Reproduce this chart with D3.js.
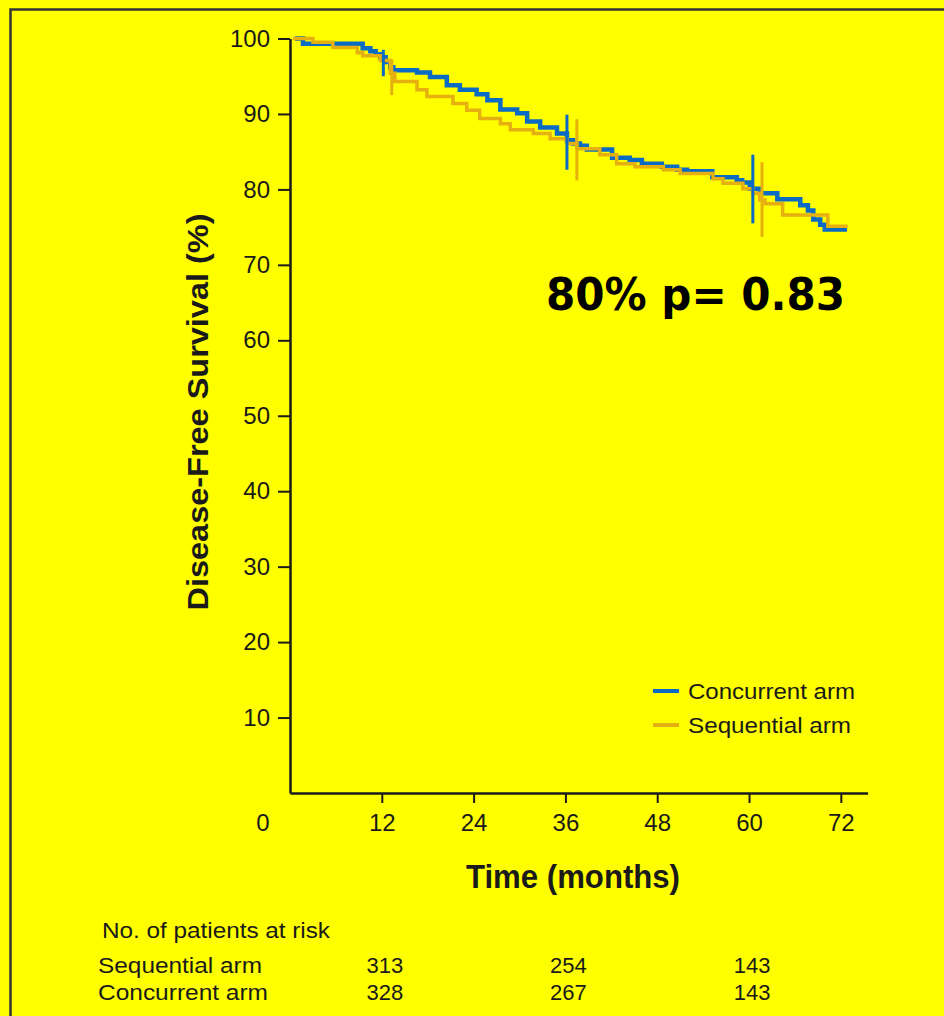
<!DOCTYPE html>
<html>
<head>
<meta charset="utf-8">
<script src="https://cdn.jsdelivr.net/npm/d3@7"></script>
<style>
  body { margin: 0; background: #ffff00; }
  svg { display: block; }
</style>
</head>
<body>
<div id="chart"></div>
<script>
// Kaplan-Meier steps: time (months) where each level starts, survival (%)
const concurrentTime = [0.65, 1.7, 9.5, 10.5, 11.2, 11.8, 12.5, 13.1, 13.5, 16.6, 18.3, 20.5, 22.2, 24.4, 25.8, 27.5, 29.7, 31.0, 32.7, 34.9, 36.2, 37.0, 37.9, 38.8, 42.1, 44.4, 46.0, 48.6, 50.6, 51.9, 55.2, 58.4, 59.1, 60.1, 61.4, 63.7, 66.7, 67.7, 68.4, 69.3, 69.9, 72.8];
const concurrentSurv = [100, 99.3, 98.7, 98.3, 97.9, 97.5, 96.9, 96.2, 95.8, 95.5, 94.9, 93.8, 93.2, 92.6, 91.8, 90.6, 90.1, 89.0, 88.2, 87.4, 86.5, 86.1, 85.8, 85.3, 84.2, 83.9, 83.4, 83.0, 82.6, 82.4, 81.6, 81.2, 80.9, 80.1, 79.5, 78.7, 77.9, 77.2, 76.0, 75.3, 74.7, 74.7];

const sequentialTime = [0.4, 3.0, 5.6, 8.8, 9.5, 11.8, 13.1, 13.7, 16.6, 17.9, 21.3, 23.1, 24.8, 27.5, 28.8, 31.8, 34.0, 36.2, 37.5, 40.5, 42.7, 45.1, 48.8, 51.0, 55.3, 56.6, 59.2, 60.5, 61.4, 62.1, 64.4, 70.3, 72.9];
const sequentialSurv = [100, 99.5, 98.8, 98.1, 97.7, 97.1, 95.4, 94.3, 93.2, 92.3, 91.4, 90.5, 89.4, 88.7, 87.9, 87.4, 86.7, 86.1, 85.4, 84.6, 83.4, 83.0, 82.6, 82.1, 81.4, 80.8, 80.1, 79.5, 78.6, 78.1, 76.6, 75.1, 75.1];

// vertical marks on the curves (time, low %, high %)
const concurrentMarkTime = [12.2, 36.2, 60.5];
const concurrentMarkLow = [95.0, 82.6, 75.5];
const concurrentMarkHigh = [98.5, 89.9, 84.6];
const sequentialMarkTime = [13.3, 37.5, 61.7];
const sequentialMarkLow = [92.5, 81.2, 73.7];
const sequentialMarkHigh = [97.2, 89.3, 83.6];

const xTicks = [12, 24, 36, 48, 60, 72];
const yTicks = [10, 20, 30, 40, 50, 60, 70, 80, 90, 100];

const riskTimes = [12, 36, 60];
const riskSequential = [313, 254, 143];
const riskConcurrent = [328, 267, 143];

const seriesNames = ["Concurrent arm", "Sequential arm"];
const annotation = "80% p= 0.83";

const width = 944;
const height = 1016;
const blue = "#0a6bc4";
const orange = "#e5b010";
const ink = "#1a1a1a";

const svg = d3.select("#chart")
  .append("svg")
  .attr("width", width)
  .attr("height", height)
  .attr("viewBox", [0, 0, width, height]);

svg.append("rect").attr("width", width).attr("height", height).attr("fill", "#ffff00");

// frame (top and left edges only are visible)
svg.append("path")
  .attr("d", `M10.5,${height} V9.5 H${width}`)
  .attr("fill", "none")
  .attr("stroke", "#333")
  .attr("stroke-width", 2.5);

// scales
const x = d3.scaleLinear().domain([0, 75.5]).range([290, 867.6]);
const y = d3.scaleLinear().domain([0, 100]).range([793, 38.5]);

// x axis
const gx = svg.append("g")
  .attr("transform", `translate(0,${y(0)})`)
  .call(d3.axisBottom(x).tickValues(xTicks).tickSize(10).tickPadding(11).tickSizeOuter(0));
gx.select(".domain").attr("stroke", ink).attr("stroke-width", 2.5);
gx.selectAll(".tick line").attr("stroke", ink).attr("stroke-width", 2);
gx.selectAll(".tick text")
  .attr("fill", ink)
  .attr("font-family", "Liberation Sans, Arial, sans-serif")
  .attr("font-size", 24);
gx.append("text")
  .attr("x", x(0) - 27)
  .attr("y", 21)
  .attr("dy", "0.71em")
  .attr("text-anchor", "middle")
  .attr("fill", ink)
  .attr("font-family", "Liberation Sans, Arial, sans-serif")
  .attr("font-size", 24)
  .text("0");

// y axis
const gy = svg.append("g")
  .attr("transform", `translate(${x(0)},0)`)
  .call(d3.axisLeft(y).tickValues(yTicks).tickSize(12).tickPadding(8).tickSizeOuter(0));
gy.select(".domain").attr("stroke", ink).attr("stroke-width", 2.5);
gy.selectAll(".tick line").attr("stroke", ink).attr("stroke-width", 2);
gy.selectAll(".tick text")
  .attr("fill", ink)
  .attr("font-family", "Liberation Sans, Arial, sans-serif")
  .attr("font-size", 24);

// axis titles
svg.append("text")
  .attr("transform", "translate(208,412) rotate(-90)")
  .attr("text-anchor", "middle")
  .attr("font-family", "Liberation Sans, Arial, sans-serif")
  .attr("font-weight", "bold")
  .attr("font-size", 30)
  .attr("textLength", 397)
  .attr("lengthAdjust", "spacingAndGlyphs")
  .attr("fill", ink)
  .text("Disease-Free Survival (%)");

svg.append("text")
  .attr("x", 573)
  .attr("y", 888)
  .attr("text-anchor", "middle")
  .attr("font-family", "Liberation Sans, Arial, sans-serif")
  .attr("font-weight", "bold")
  .attr("font-size", 34)
  .attr("textLength", 214)
  .attr("lengthAdjust", "spacingAndGlyphs")
  .attr("fill", ink)
  .text("Time (months)");

// curves
const step = d3.line()
  .x((d) => x(d[0]))
  .y((d) => y(d[1]))
  .curve(d3.curveStepAfter);

const curves = [
  { time: concurrentTime, surv: concurrentSurv, color: blue, w: 4.5,
    mt: concurrentMarkTime, lo: concurrentMarkLow, hi: concurrentMarkHigh },
  { time: sequentialTime, surv: sequentialSurv, color: orange, w: 3.5,
    mt: sequentialMarkTime, lo: sequentialMarkLow, hi: sequentialMarkHigh },
];

curves.forEach((c) => {
  svg.append("path")
    .datum(d3.zip(c.time, c.surv))
    .attr("fill", "none")
    .attr("stroke", c.color)
    .attr("stroke-width", c.w)
    .attr("d", step);
});

curves.forEach((c) => {
  svg.append("g")
    .selectAll("line")
    .data(d3.range(c.mt.length))
    .join("line")
    .attr("x1", (i) => x(c.mt[i]))
    .attr("x2", (i) => x(c.mt[i]))
    .attr("y1", (i) => y(c.hi[i]))
    .attr("y2", (i) => y(c.lo[i]))
    .attr("stroke", c.color)
    .attr("stroke-width", 3);
});

// annotation
svg.append("text")
  .attr("x", 546)
  .attr("y", 310)
  .attr("font-family", "DejaVu Sans, sans-serif")
  .attr("font-weight", "bold")
  .attr("font-size", 44)
  .attr("textLength", 299)
  .attr("lengthAdjust", "spacingAndGlyphs")
  .attr("fill", "#000")
  .text(annotation);

// legend
const legend = svg.append("g").attr("transform", "translate(653,691)");
[blue, orange].forEach((col, i) => {
  legend.append("line")
    .attr("x1", 0).attr("x2", 26)
    .attr("y1", i * 34).attr("y2", i * 34)
    .attr("stroke", col)
    .attr("stroke-width", 4);
  legend.append("text")
    .attr("x", 35)
    .attr("y", i * 34 + 8)
    .attr("font-family", "Liberation Sans, Arial, sans-serif")
    .attr("font-size", 22)
    .attr("textLength", i === 0 ? 167 : 163)
    .attr("lengthAdjust", "spacingAndGlyphs")
    .attr("fill", ink)
    .text(seriesNames[i]);
});

// number at risk table
const tableFont = "Liberation Sans, Arial, sans-serif";
svg.append("text")
  .attr("x", 102).attr("y", 938)
  .attr("font-family", tableFont).attr("font-size", 22)
  .attr("textLength", 228).attr("lengthAdjust", "spacingAndGlyphs")
  .attr("fill", ink)
  .text("No. of patients at risk");

const rows = [
  { name: seriesNames[1], values: riskSequential, yb: 973, len: 164 },
  { name: seriesNames[0], values: riskConcurrent, yb: 1000, len: 170 },
];
rows.forEach((r) => {
  svg.append("text")
    .attr("x", 98).attr("y", r.yb)
    .attr("font-family", tableFont).attr("font-size", 22)
    .attr("textLength", r.len).attr("lengthAdjust", "spacingAndGlyphs")
    .attr("fill", ink)
    .text(r.name);
  svg.append("g")
    .selectAll("text")
    .data(r.values)
    .join("text")
    .attr("x", (d, i) => x(riskTimes[i]) + 3)
    .attr("y", r.yb)
    .attr("text-anchor", "middle")
    .attr("font-family", tableFont)
    .attr("font-size", 22)
    .attr("fill", ink)
    .text((d) => d);
});
</script>
</body>
</html>
